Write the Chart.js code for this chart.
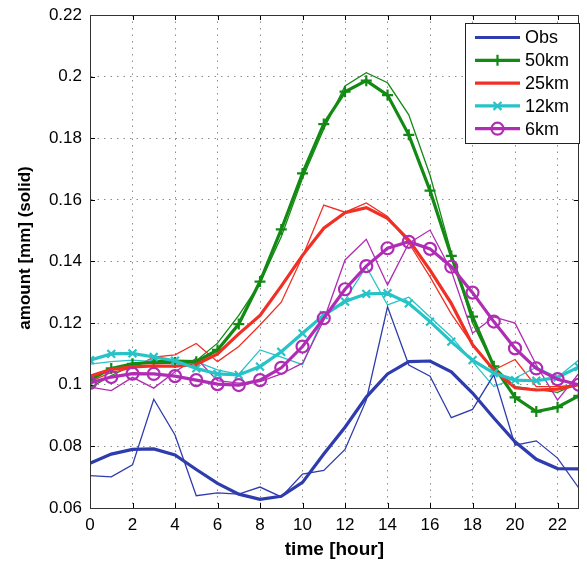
<!DOCTYPE html>
<html><head><meta charset="utf-8">
<script src="https://cdn.jsdelivr.net/npm/chart.js@4/dist/chart.umd.min.js"></script>
<style>html,body{margin:0;padding:0;background:#fff}canvas{display:block}</style>
</head><body>
<canvas id="c" width="587" height="564"></canvas>
<script>
const hours = [0,1,2,3,4,5,6,7,8,9,10,11,12,13,14,15,16,17,18,19,20,21,22,23];
const xTicks = [0,2,4,6,8,10,12,14,16,18,20,22];
const yTicks = [0.06,0.08,0.10,0.12,0.14,0.16,0.18,0.20,0.22];

// thick (smoothed) series
const obsSmooth = [0.0745,0.0775,0.0790,0.0792,0.0772,0.0725,0.0680,0.0645,0.0628,0.0638,0.0683,0.0775,0.0862,0.0960,0.1035,0.1075,0.1077,0.1042,0.0973,0.0892,0.0815,0.0758,0.0728,0.0727];
const km50Smooth = [0.1015,0.1053,0.1068,0.1073,0.1072,0.1075,0.1113,0.1197,0.1335,0.1504,0.1686,0.1846,0.1951,0.1987,0.1940,0.1811,0.1630,0.1418,0.1221,0.1060,0.0959,0.0913,0.0927,0.0964];
const km25Smooth = [0.1028,0.1050,0.1058,0.1061,0.1060,0.1066,0.1100,0.1165,0.1225,0.1320,0.1420,0.1508,0.1558,0.1575,0.1540,0.1470,0.1372,0.1264,0.1130,0.1048,0.0990,0.0983,0.0986,0.1000];
const km12Smooth = [0.1080,0.1100,0.1102,0.1090,0.1078,0.1053,0.1035,0.1032,0.1059,0.1107,0.1167,0.1226,0.1270,0.1295,0.1297,0.1264,0.1205,0.1140,0.1080,0.1038,0.1015,0.1013,0.1024,0.1058];
const km6Smooth  = [0.1006,0.1025,0.1036,0.1035,0.1028,0.1015,0.1002,0.0999,0.1015,0.1055,0.1124,0.1216,0.1310,0.1385,0.1443,0.1464,0.1441,0.1383,0.1299,0.1205,0.1118,0.1053,0.1018,0.1000];

// thin (raw) series
const obsRaw  = [0.0705,0.0701,0.0740,0.0953,0.0837,0.0640,0.0649,0.0645,0.0668,0.0636,0.0710,0.0722,0.0790,0.0950,0.1253,0.1064,0.1028,0.0893,0.0920,0.1032,0.0804,0.0818,0.0762,0.0665];
const km50Raw = [0.0990,0.1030,0.1062,0.1078,0.1080,0.1078,0.1135,0.1225,0.1330,0.1480,0.1670,0.1830,0.1970,0.2013,0.1980,0.1876,0.1680,0.1428,0.1200,0.1060,0.0994,0.0985,0.0975,0.1005];
const km25Raw = [0.1010,0.1040,0.1054,0.1090,0.1097,0.1134,0.1075,0.1124,0.1194,0.1268,0.1416,0.1583,0.1560,0.1590,0.1546,0.1460,0.1350,0.1230,0.1130,0.1048,0.1082,0.0994,0.0994,0.1000];
const km12Raw = [0.1067,0.1075,0.1080,0.1075,0.1075,0.1075,0.1048,0.1034,0.1113,0.1090,0.1065,0.1222,0.1275,0.1383,0.1259,0.1284,0.1220,0.1156,0.1075,0.0994,0.1021,0.1057,0.1024,0.1080];
const km6Raw  = [0.0992,0.0981,0.1024,0.0989,0.1042,0.1086,0.1013,0.1005,0.1010,0.1035,0.1070,0.1210,0.1405,0.1472,0.1324,0.1459,0.1502,0.1370,0.1167,0.1220,0.1200,0.1064,0.0950,0.1037];

const labels = ['Obs','50km','25km','12km','6km'];
const colors = ['#2e3cae','#138a13','#f03024','#27c3c6','#b02cb4'];
const markers = [false,'cross',false,'crossRot','circle'];

const FONT = "'Liberation Sans', Arial, Helvetica, sans-serif";
Chart.defaults.font.family = FONT;
Chart.defaults.color = '#000';

function pts(vals){ return hours.map((h,i)=>({x:h,y:vals[i]})); }
function thick(i, vals){
  const m = markers[i];
  return {label: labels[i], data: pts(vals), borderColor: colors[i], backgroundColor: colors[i],
    borderWidth: 3.2, tension: 0, fill:false,
    pointStyle: m || 'circle', pointRadius: m ? (m==='circle'?6:5.5) : 0,
    pointBorderWidth: 2.2, pointBorderColor: colors[i],
    pointBackgroundColor: m==='circle' ? 'rgba(0,0,0,0)' : colors[i],
    _legend: true, _marker: m};
}
function thin(i, vals){
  return {label: labels[i]+' raw', data: pts(vals), borderColor: colors[i], borderWidth: 1.3,
    tension: 0, fill:false, pointRadius: 0, _legend:false};
}

const datasets = [
  thick(0,obsSmooth), thick(4,km6Smooth), thick(3,km12Smooth), thick(2,km25Smooth), thick(1,km50Smooth),
  thin(0,obsRaw), thin(4,km6Raw), thin(3,km12Raw), thin(2,km25Raw), thin(1,km50Raw)
];

function drawMarker(ctx, style, x, y, r, color){
  ctx.save();
  ctx.strokeStyle = color; ctx.lineWidth = 2.2;
  ctx.beginPath();
  if (style==='cross'){ ctx.moveTo(x-r,y); ctx.lineTo(x+r,y); ctx.moveTo(x,y-r); ctx.lineTo(x,y+r); }
  else if (style==='crossRot'){ const d=r*0.72; ctx.moveTo(x-d,y-d); ctx.lineTo(x+d,y+d); ctx.moveTo(x-d,y+d); ctx.lineTo(x+d,y-d); }
  else if (style==='circle'){ ctx.arc(x,y,r,0,Math.PI*2); }
  ctx.stroke();
  ctx.restore();
}

const framePlugin = {
  id: 'frame',
  beforeDatasetsDraw(chart){
    const {ctx, chartArea:a, scales:{x,y}} = chart;
    ctx.save();
    ctx.strokeStyle = '#000'; ctx.lineWidth = 1;
    ctx.beginPath();
    xTicks.forEach(v=>{ const px=Math.round(x.getPixelForValue(v))+0.5;
      ctx.moveTo(px,a.top); ctx.lineTo(px,a.top+5); ctx.moveTo(px,a.bottom); ctx.lineTo(px,a.bottom-5); });
    yTicks.forEach(v=>{ const py=Math.round(y.getPixelForValue(v))+0.5;
      ctx.moveTo(a.left,py); ctx.lineTo(a.left+5,py); ctx.moveTo(a.right,py); ctx.lineTo(a.right-5,py); });
    ctx.stroke();
    ctx.restore();
  },
  afterDraw(chart){
    const {ctx, chartArea:a} = chart;
    ctx.save();
    ctx.strokeStyle = '#333'; ctx.lineWidth = 1;
    ctx.strokeRect(Math.round(a.left)+0.5, Math.round(a.top)+0.5, Math.round(a.right-a.left)-1, Math.round(a.bottom-a.top));
    // y-axis title
    ctx.fillStyle = '#000';
    ctx.font = "bold 17px " + FONT;
    ctx.textAlign = 'center'; ctx.textBaseline = 'middle';
    ctx.translate(25, 248); ctx.rotate(-Math.PI/2);
    ctx.fillText('amount [mm] (solid)', 0, 0);
    ctx.restore();

    // legend
    ctx.save();
    const bx=465.5, by=23.5, bw=114, bh=120;
    ctx.fillStyle = '#fff'; ctx.fillRect(bx,by,bw,bh);
    ctx.strokeStyle = '#222'; ctx.lineWidth = 1; ctx.strokeRect(bx,by,bw,bh);
    ctx.font = "18px " + FONT; ctx.textBaseline = 'middle'; ctx.textAlign = 'left';
    const legendSets = chart.data.datasets.filter(d=>d._legend);
    labels.forEach((lab,i)=>{
      const ds = legendSets.find(d=>d.label===lab);
      const yy = 37.5 + i*22.8;
      ctx.strokeStyle = ds.borderColor; ctx.lineWidth = ds.borderWidth;
      ctx.beginPath(); ctx.moveTo(475,yy); ctx.lineTo(520,yy); ctx.stroke();
      if (ds._marker) drawMarker(ctx, ds._marker, 497.5, yy, ds._marker==='circle'?6:5.5, ds.borderColor);
      ctx.fillStyle = '#000'; ctx.fillText(lab, 525, yy+1);
    });
    ctx.restore();
  }
};

new Chart(document.getElementById('c'), {
  type: 'line',
  data: { datasets },
  options: {
    responsive: false, animation: false, devicePixelRatio: 1,
    layout: { padding: { top: 15, right: 0, left: 0, bottom: 0 } },
    plugins: { legend: { display: false }, tooltip: { enabled: false } },
    scales: {
      x: {
        type: 'linear', min: 0, max: 23,
        afterBuildTicks: s => { s.ticks = xTicks.map(v=>({value:v})); },
        afterFit: s => { s.height = 56; s.paddingRight = 0; s.paddingLeft = 0; },
        ticks: { font: { size: 17 }, color: '#000', padding: 7, maxRotation: 0, autoSkip: false },
        grid: { color: 'rgba(0,0,0,0.45)', drawTicks: false, lineWidth: 1 },
        border: { display: true, color: '#333', width: 1, dash: [1.5, 5] },
        title: { display: true, text: 'time [hour]', font: { size: 19, weight: 'bold' }, color: '#000', padding: { top: 0, bottom: 3 } }
      },
      y: {
        type: 'linear', min: 0.06, max: 0.22,
        afterBuildTicks: s => { s.ticks = yTicks.map(v=>({value:v})); },
        afterFit: s => { s.width = 90; s.paddingTop = 0; },
        ticks: { font: { size: 17 }, color: '#000', padding: 8, callback: v => String(+v.toFixed(2)) },
        grid: { color: 'rgba(0,0,0,0.45)', drawTicks: false, lineWidth: 1 },
        border: { display: true, color: '#333', width: 1, dash: [1.5, 5] }
      }
    }
  },
  plugins: [framePlugin]
});
</script>
</body></html>
